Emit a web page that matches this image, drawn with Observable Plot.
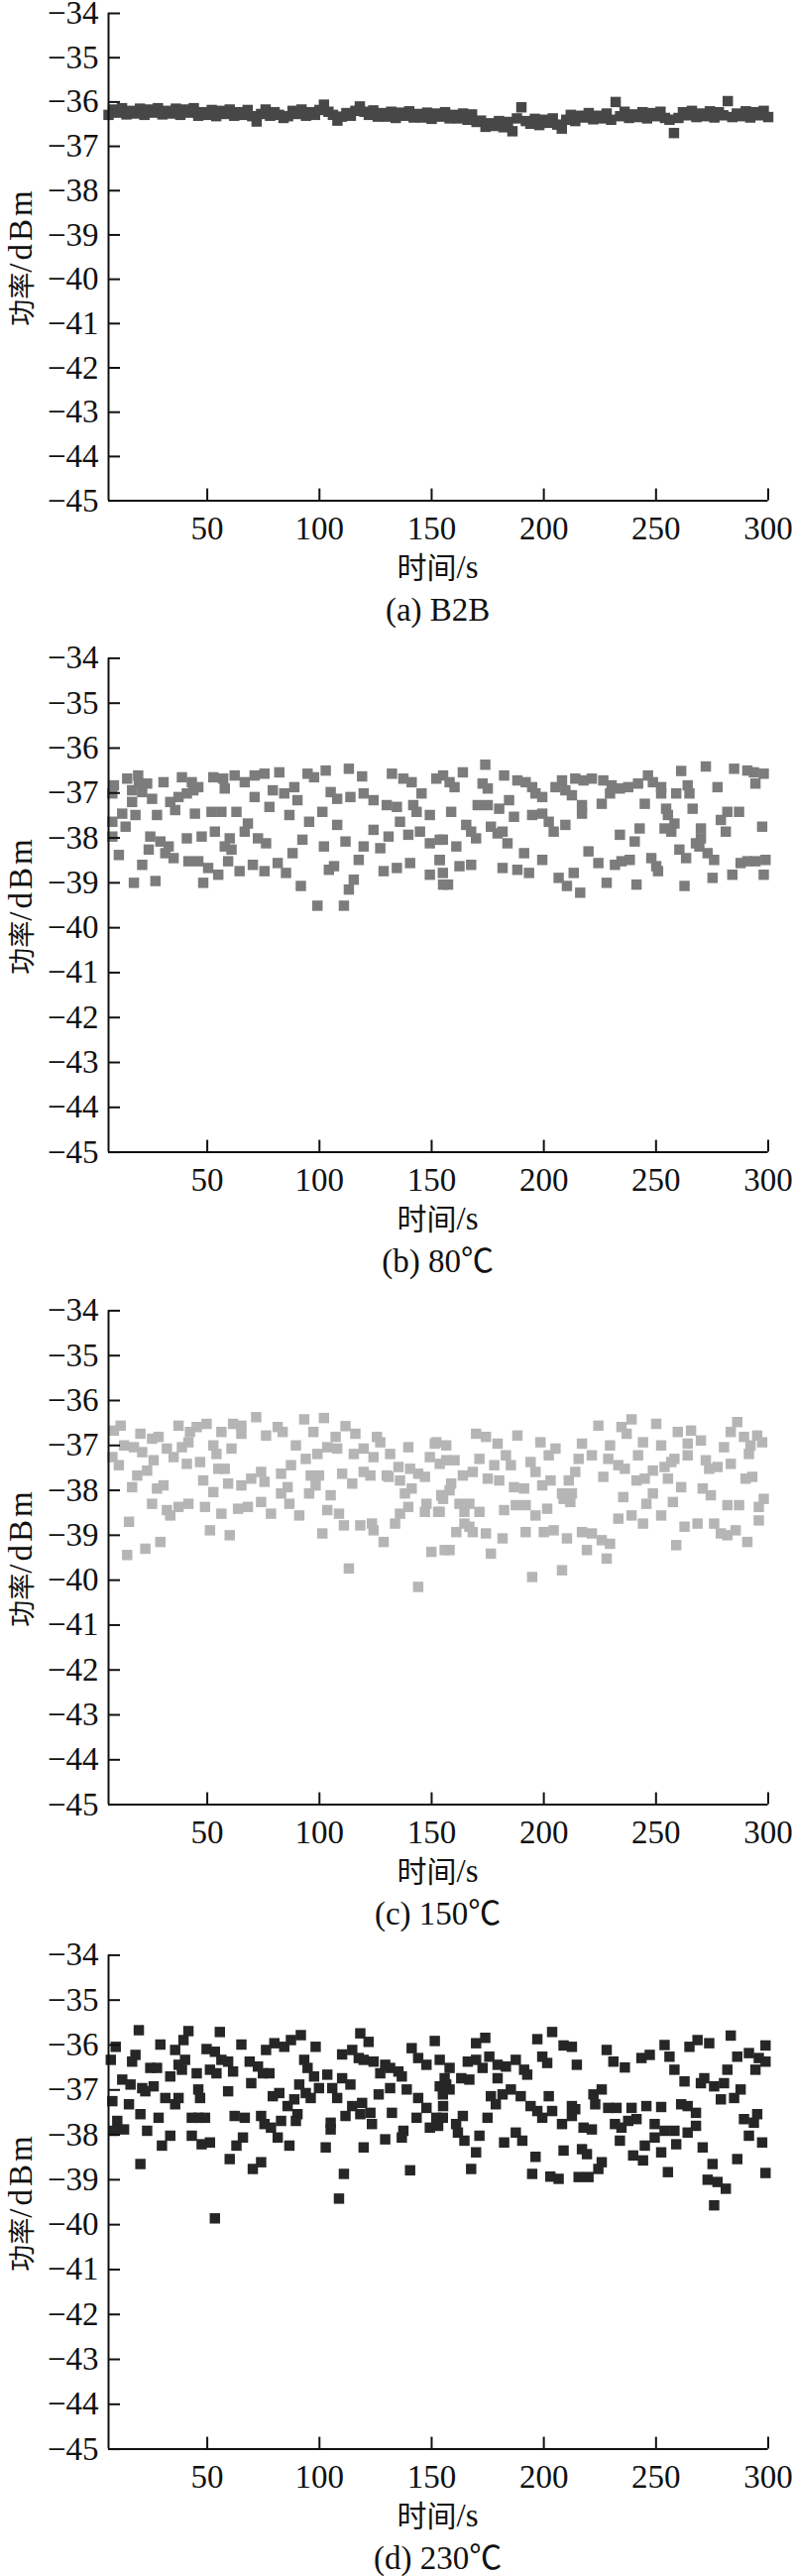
<!DOCTYPE html>
<html><head><meta charset="utf-8">
<script src="https://cdn.jsdelivr.net/npm/d3@7"></script>
<script src="https://cdn.jsdelivr.net/npm/@observablehq/plot@0.6"></script>
<style>
body{margin:0;background:#fff;width:800px;height:2598px;position:relative;overflow:hidden;font-family:"Liberation Serif","Noto Sans CJK SC",serif;color:#111;}
.panel{position:absolute;left:0;width:800px;height:650px;}
.panel svg{position:absolute;left:0;top:0;overflow:visible;}
.lbl{position:absolute;font-size:33px;line-height:1;white-space:nowrap;transform:translate(-50%,-50%);}
.ylbl{position:absolute;line-height:1;white-space:nowrap;transform:translate(-50%,-50%) rotate(-90deg);}
.cjk{font-family:"Noto Sans CJK SC",sans-serif;font-size:27px;}
.cjkx{font-family:"Noto Sans CJK SC",sans-serif;font-size:30px;}
.lat{font-family:"Liberation Serif",serif;font-size:33px;}
.latsp{font-family:"Liberation Serif",serif;font-size:33px;letter-spacing:3px;}
</style></head><body>
<script>
// ---- axis ticks ----
const xTicks = [50, 100, 150, 200, 250, 300];
const yTicks = [-45, -44, -43, -42, -41, -40, -39, -38, -37, -36, -35, -34];

// ---- captions ----
const captions = ["(a) B2B", "(b) 80\u2103", "(c) 150\u2103", "(d) 230\u2103"];
const xLabelCJK = "时间", xLabelLat = "/s";
const yLabelCJK = "功率", yLabelLat = "/dBm";

// ---- (a) B2B : [time s, power dBm] ----
const seriesB2B = [
[6,-36.29],[8,-36.17],[10,-36.24],[12,-36.14],[14,-36.28],[16,-36.2],[18,-36.26],[20,-36.15],[22,-36.29],[24,-36.17],
[26,-36.24],[28,-36.14],[30,-36.28],[32,-36.2],[34,-36.26],[36,-36.15],[38,-36.29],[40,-36.17],[42,-36.24],[44,-36.14],
[46,-36.31],[48,-36.23],[50,-36.29],[52,-36.18],[54,-36.32],[56,-36.2],[58,-36.27],[60,-36.17],[62,-36.31],[64,-36.23],
[66,-36.29],[68,-36.18],[70,-36.32],[72,-36.44],[74,-36.27],[76,-36.17],[78,-36.31],[80,-36.23],[82,-36.29],[84,-36.36],
[86,-36.32],[88,-36.2],[90,-36.27],[92,-36.17],[94,-36.31],[96,-36.23],[98,-36.29],[100,-36.18],[102,-36.06],[104,-36.22],
[106,-36.29],[108,-36.42],[110,-36.33],[112,-36.25],[114,-36.31],[116,-36.2],[118,-36.1],[120,-36.22],[122,-36.29],[124,-36.19],
[126,-36.33],[128,-36.25],[130,-36.33],[132,-36.22],[134,-36.36],[136,-36.24],[138,-36.31],[140,-36.21],[142,-36.35],[144,-36.27],
[146,-36.35],[148,-36.24],[150,-36.38],[152,-36.26],[154,-36.33],[156,-36.23],[158,-36.37],[160,-36.29],[162,-36.37],[164,-36.26],
[166,-36.4],[168,-36.28],[170,-36.45],[172,-36.42],[174,-36.56],[176,-36.48],[178,-36.54],[180,-36.43],[182,-36.57],[184,-36.45],
[186,-36.66],[188,-36.37],[190,-36.12],[192,-36.43],[194,-36.49],[196,-36.38],[198,-36.52],[200,-36.4],[202,-36.47],[204,-36.37],
[206,-36.51],[208,-36.6],[210,-36.4],[212,-36.29],[214,-36.43],[216,-36.31],[218,-36.35],[220,-36.25],[222,-36.39],[224,-36.31],
[226,-36.37],[228,-36.26],[230,-36.4],[232,-36.0],[234,-36.32],[236,-36.22],[238,-36.36],[240,-36.28],[242,-36.34],[244,-36.23],
[246,-36.37],[248,-36.25],[250,-36.32],[252,-36.22],[254,-36.36],[256,-36.4],[258,-36.7],[260,-36.36],[262,-36.23],[264,-36.3],
[266,-36.2],[268,-36.34],[270,-36.26],[272,-36.32],[274,-36.21],[276,-36.35],[278,-36.23],[280,-36.3],[282,-35.98],[284,-36.34],
[286,-36.26],[288,-36.32],[290,-36.21],[292,-36.35],[294,-36.23],[296,-36.3],[298,-36.2],[300,-36.34]
];

// ---- (b) 80°C ----
const series80 = [
[8.4,-36.83],[14.3,-36.68],[19.2,-36.61],[19.5,-36.79],[23.2,-36.79],[30.5,-36.76],[38.7,-36.65],[43.1,-36.76],[46,-36.87],[52.7,-36.65],
[57.1,-36.68],[62.2,-36.61],[66.7,-36.76],[71.1,-36.61],[75.5,-36.57],[82.1,-36.54],[94.7,-36.57],[97.6,-36.65],[102.8,-36.5],[113.1,-36.46],
[119,-36.63],[132.3,-36.57],[137.4,-36.68],[141.1,-36.76],[152.1,-36.68],[155.1,-36.61],
[7.7,-37.01],[16.5,-36.94],[21,-36.98],[25.4,-37.13],[33.5,-37.2],[37.2,-37.09],[40.9,-37.01],[43.8,-36.94],[57.8,-36.9],[71.1,-37.09],
[79.2,-36.94],[84.3,-37.01],[88.8,-36.87],[90.2,-37.16],[105,-36.98],[107.9,-37.13],[113.8,-37.09],[119.7,-37.01],[124.1,-37.16],[130,-37.27],
[134.5,-37.31],[141.8,-37.27],[145.5,-37.01],
[7.7,-37.64],[12.1,-37.46],[16.5,-37.2],[18,-37.49],[27.6,-37.49],[35.7,-37.38],[44.5,-37.46],[51.9,-37.42],[56.3,-37.42],[63,-37.42],
[68.1,-37.68],[77.7,-37.31],[86.6,-37.49],[95.4,-37.64],[101.3,-37.42],[107.9,-37.71],[135.9,-37.64],[143.3,-37.42],[149.2,-37.49],
[7.7,-37.97],[13.6,-37.75],[24.6,-37.97],[29.1,-38.08],[32.8,-38.19],[40.9,-38.01],[47.5,-37.97],[53.4,-37.86],[57.8,-38.19],[60,-38.01],
[66.7,-37.86],[72.6,-38.01],[76.2,-38.12],[92.4,-38.04],[102,-38.19],[111.6,-38.08],[119.7,-38.19],[124.1,-37.82],[127.1,-38.23],[130.8,-37.97],
[139.6,-37.93],[144.8,-37.86],[149.2,-38.12],[153.6,-38.04],
[10.6,-38.38],[23.9,-38.26],[21,-38.6],[31.3,-38.34],[35,-38.45],[41.6,-38.52],[46,-38.52],[50.4,-38.67],[54.9,-38.82],[60.8,-38.26],
[59.3,-38.52],[64.4,-38.74],[70.3,-38.6],[75.5,-38.74],[81.4,-38.56],[85.1,-38.78],[88,-38.34],[104.2,-38.71],[106.5,-38.63],[117.5,-38.49],
[128.6,-38.74],[134.5,-38.67],[140.4,-38.56],[149.2,-38.82],[153.6,-38.49],
[17.3,-39],[26.9,-38.96],[48.2,-39],[91.7,-39.07],[99.1,-39.51],[110.9,-39.51],[113.1,-39.15],[115.3,-38.93],[155.1,-39.04],
[163.9,-36.54],[173.9,-36.37],[182.3,-36.61],[158,-36.76],[160.2,-36.87],[172.7,-36.79],[175,-36.9],[188.2,-36.72],[191.9,-36.76],[194.8,-36.87],
[205.2,-36.87],[208.1,-36.72],[214,-36.68],[217.7,-36.72],[221.4,-36.68],[226.5,-36.72],[230.2,-36.83],[233.9,-36.9],[237.6,-36.87],[242,-36.79],
[246.4,-36.61],[248.6,-36.76],[252.3,-36.87],[261.2,-36.51],[272.2,-36.41],[284.8,-36.46],[290.7,-36.5],[293.6,-36.54],[298,-36.57],[294.3,-36.79],
[277.4,-36.87],[264.1,-36.83],[264.9,-37.01],[259,-37.01],[252.3,-37.01],
[196.3,-37.01],[199.3,-37.09],[209.6,-36.94],[212.5,-37.05],[217,-37.27],[225.8,-37.24],[229.5,-37.01],[245,-37.24],[254.5,-37.35],[266.3,-37.35],
[281.8,-37.42],[287,-37.42],[170.5,-37.27],[175,-37.27],[180.1,-37.35],[184.5,-37.16],[186.7,-37.53],[158.7,-37.42],
[194.8,-37.49],[199.3,-37.46],[202.2,-37.64],[204.4,-37.86],[209.6,-37.71],[217,-37.46],[233.9,-37.93],[242.7,-37.79],[253.8,-37.79],[255.3,-37.49],
[258.2,-37.68],[256.8,-37.86],[270,-37.79],[278.9,-37.6],[281.1,-37.86],[297.3,-37.75],[165.4,-37.71],[167.6,-37.86],[169.8,-38.01],[176.4,-37.75],
[179.4,-37.9],[181.6,-37.86],
[155,-38.04],[161,-38.19],[183.8,-38.12],[191.2,-38.34],[199.3,-38.49],[153.6,-38.49],[219.9,-38.3],[224.3,-38.56],[231.7,-38.6],[234.6,-38.52],
[238.3,-38.49],[240.5,-38.08],[247.9,-38.45],[250.1,-38.63],[260.4,-38.26],[263.4,-38.45],[267.8,-38.12],[270,-38.01],[269.3,-38.19],[273,-38.34],
[275.9,-38.49],[287.7,-38.56],[290.7,-38.52],[294.3,-38.52],[298.8,-38.49],
[155,-38.78],[157.3,-39.04],[162.4,-38.63],[167.6,-38.6],[181.6,-38.67],[188.2,-38.71],[193.4,-38.78],[206.6,-38.89],[210.3,-39.07],[213.3,-38.78],
[216.2,-39.22],[228,-39],[241.3,-39.04],[250.9,-38.74],[262.7,-39.07],[275.2,-38.89],[284,-38.82],[298,-38.82]
];

// ---- (c) 150°C ----
const series150 = [
[8.4,-36.67],[11.4,-36.56],[20.2,-36.74],[25.4,-36.85],[28.3,-36.81],[37.2,-36.56],[42.3,-36.7],[45.3,-36.59],[49.7,-36.52],[56.3,-36.7],
[61.5,-36.52],[65.2,-36.56],[65.2,-36.74],[71.8,-36.37],[76.2,-36.78],[81.4,-36.59],[83.6,-36.7],[93.2,-36.42],[97.3,-36.7],[102,-36.39],
[107.2,-36.81],[111.6,-36.57],[116,-36.74],[125.6,-36.81],[127.1,-36.93],
[7.7,-37.26],[10.6,-37.44],[12.9,-37],[17.3,-37.04],[21,-37.15],[26.1,-37.33],[32,-37.07],[35,-37.26],[38.7,-37.04],[41.6,-36.93],
[52.7,-37],[54.1,-37.19],[60.8,-37.07],[89.5,-37],[93.9,-37.3],[99.1,-37.19],[103.5,-37.04],[107.9,-37.07],[115.3,-37.19],[119.7,-37.07],
[124.1,-37.26],[131.5,-37.19],[139.6,-37.04],[149.2,-37.26],[151.4,-36.96],[153.6,-37.41],[140.4,-37.52],[135.2,-37.48],[130,-37.67],
[16.5,-37.93],[18.8,-37.67],[23.2,-37.56],[27.6,-37.96],[30.5,-37.89],[40.9,-37.41],[46.8,-37.37],[48.2,-37.78],[52.7,-38.04],[54.9,-37.52],
[57.8,-37.52],[59.3,-37.85],[65.2,-37.89],[69.6,-37.74],[74,-37.59],[75.5,-37.81],[82.9,-37.63],[85.8,-37.93],[87.3,-37.44],[96.1,-37.67],
[99.8,-37.67],[98.3,-37.89],[105,-38.11],[110.1,-37.63],[114.6,-37.85],[119.7,-37.59],[122.7,-37.67],[130.8,-37.7],[135.9,-37.78],[138.1,-38.07],
[141.1,-37.96],[144,-37.63],[147,-37.7],[154.4,-38.11],
[25.4,-38.3],[32,-38.44],[33.5,-38.56],[37.2,-38.37],[41.6,-38.3],[49,-38.37],[56.3,-38.52],[63.7,-38.41],[68.1,-38.37],[74,-38.26],
[78.4,-38.52],[82.9,-38.07],[86.6,-38.3],[91,-38.56],[95.4,-38.07],[103.5,-38.44],[108.7,-38.52],[110.9,-38.78],[118.2,-38.78],[123.4,-38.74],
[124.1,-38.89],[133.7,-38.74],[135.9,-38.52],[139.6,-38.37],[147.7,-38.3],[147,-38.48],[152.9,-38.48],[155.1,-38.19],
[15.1,-38.7],[51.2,-38.89],[60,-39],[101.3,-38.96],[29.1,-39.15],[22.4,-39.3],[14.3,-39.44],[128.6,-39.15],[113.1,-39.74],[144,-40.15],
[149.9,-39.37],[155.8,-39.33],
[224.3,-36.56],[239.1,-36.42],[250.1,-36.52],[286.2,-36.48],[169.8,-36.74],[174.2,-36.81],[188.2,-36.78],[234.6,-36.59],[236.9,-36.74],[259.7,-36.7],
[265.6,-36.67],[270,-36.89],[283.3,-36.7],[289.2,-36.81],[295.1,-36.78],[297.3,-36.93],[152.1,-36.93],[156.5,-37],[179.4,-36.96],[198.5,-36.93],
[205.2,-37.07],[217,-36.96],[229.5,-37],[244.2,-36.93],[252.3,-37],[264.1,-36.96],[280.3,-37.04],[292.1,-37],
[156.5,-37.33],[160.2,-37.33],[171.3,-37.3],[177.9,-37.44],[183.1,-37.22],[185.3,-37.44],[194.1,-37.37],[196.3,-37.59],[202.2,-37.22],[215.5,-37.3],
[221.4,-37.22],[228.7,-37.3],[233.2,-37.44],[236.1,-37.52],[242,-37.22],[258.2,-37.3],[264.1,-37.22],[272.2,-37.33],[273.7,-37.52],[277.4,-37.48],
[283.3,-37.41],[291.4,-37.19],[248.6,-37.56],[253.8,-37.48],[256.8,-37.37],
[158.7,-37.85],[163.9,-37.67],[168.3,-37.59],[175,-37.74],[180.1,-37.78],[186.7,-37.93],[191.2,-37.96],[199.3,-37.89],[203,-37.78],[208.1,-38.07],
[211.1,-37.78],[212.5,-38.07],[214,-37.59],[226.5,-37.7],[235.4,-38.15],[241.3,-37.78],[245,-37.74],[248.6,-38.07],[255.3,-37.74],[261.2,-37.93],
[270.8,-37.96],[274.4,-38.11],[289.9,-37.74],[292.9,-37.7],[154.3,-38.11],[158,-38],
[153.6,-38.48],[162.4,-38.3],[164.6,-38.48],[166.8,-38.3],[171.3,-38.48],[182.3,-38.44],[187.5,-38.33],[191.9,-38.33],[196.3,-38.56],[201.5,-38.41],
[208.8,-38.19],[211.8,-38.26],[233.2,-38.63],[239.1,-38.56],[244.2,-38.74],[252.3,-38.56],[245.7,-38.3],[257.5,-38.26],[281.8,-38.33],[287,-38.33],
[295.8,-38.37],[298,-38.19],[295.8,-38.67],[164.6,-38.74],[166.8,-38.81],
[161,-38.93],[168.3,-38.93],[174.2,-38.96],[181.6,-39.07],[191.9,-38.93],[200,-38.93],[204.4,-38.89],[210.3,-39.07],[217,-38.93],[221.4,-38.96],
[225.8,-39.11],[229.5,-39.19],[262.7,-38.81],[268.5,-38.74],[275.9,-38.74],[278.9,-38.96],[281.8,-39],[285.5,-38.89],[290.7,-39.15],[158,-39.33],
[176.4,-39.41],[219.2,-39.33],[228,-39.52],[259,-39.22],[194.8,-39.93],[208.1,-39.78]
];

// ---- (d) 230°C ----
const series230 = [
[19.5,-35.67],[41.6,-35.69],[55.6,-35.71],[29.1,-35.99],[39.4,-35.89],[35.7,-36.11],[9.2,-36.04],[7,-36.33],[49.7,-36.09],[53.4,-36.15],
[65.2,-35.99],[76.2,-36.11],[79.9,-35.96],[84.3,-36.04],[87.3,-35.89],[91.7,-35.78],[98.3,-36.04],[110.1,-36.21],[114.6,-36.11],[118.2,-35.74],
[121.9,-35.93],[141.1,-36.07],[151.4,-35.91],
[16.5,-36.37],[18,-36.22],[24.6,-36.51],[27.6,-36.51],[33.5,-36.7],[37.2,-36.44],[40.1,-36.33],[38.7,-36.55],[45.3,-36.63],[51.2,-36.55],
[54.1,-36.63],[56.3,-36.33],[59.3,-36.37],[61.5,-36.59],[68.9,-36.37],[72.6,-36.48],[74.8,-36.63],[77.7,-36.63],[93.2,-36.33],[94.7,-36.51],
[97.6,-36.7],[103.5,-36.66],[110.1,-36.74],[113.8,-36.88],[117.5,-36.29],[119.7,-36.33],[124.1,-36.37],[127.1,-36.63],[129.3,-36.44],[131.5,-36.51],
[135.2,-36.59],[136.7,-36.7],[144,-36.29],[147.7,-36.44],[153.6,-36.33],[12.1,-36.77],[15.8,-36.88],[21,-36.96],[26.1,-36.92],[69.6,-36.85],[91,-36.88],
[7.7,-37.25],[15.1,-37.32],[22.4,-37.03],[31.3,-37.18],[35.7,-37.32],[37.2,-37.18],[46,-36.99],[46.8,-37.18],[59.3,-37.03],[79.2,-37.14],
[82.1,-37.07],[85.8,-37.36],[88.8,-37.21],[93.9,-37.07],[96.1,-37.18],[99.8,-36.96],[105.7,-36.96],[107.9,-37.18],[114.6,-37.36],[119,-37.29],
[126.4,-37.1],[131.5,-36.96],[138.9,-36.99],[144,-37.18],[147.7,-37.4],[153.6,-36.92],[155.1,-37.36],
[9.9,-37.69],[8.4,-37.91],[12.9,-37.88],[20.2,-37.54],[23.2,-37.91],[28.3,-37.62],[43.1,-37.62],[46,-37.62],[49,-37.62],[62.2,-37.58],
[66.7,-37.62],[74,-37.58],[75.5,-37.76],[78.4,-37.84],[82.9,-37.69],[90.2,-37.54],[89.5,-37.69],[105,-37.73],[105,-37.88],[111.6,-37.58],
[118.2,-37.54],[122.7,-37.51],[123.4,-37.76],[132.3,-37.51],[143.3,-37.62],[149.2,-37.84],[152.9,-37.8],[137.4,-37.91],
[29.8,-38.24],[33.5,-38.02],[43.1,-38.02],[47.5,-38.21],[51.2,-38.17],[63,-38.24],[65.9,-38.06],[60,-38.54],[70.3,-38.76],[74,-38.61],
[81.4,-38.06],[86.6,-38.24],[102.8,-38.28],[119.7,-38.28],[129.3,-38.1],[136.7,-38.06],[20.2,-38.65],[110.9,-38.87],[140.4,-38.79],
[108.7,-39.42],[53.4,-39.86],
[169.8,-35.96],[173.9,-35.84],[197.1,-35.87],[203.7,-35.71],[208.8,-36.01],[212.5,-36.04],[228,-36.11],[253.8,-36],[264.9,-36.04],[268.5,-35.89],
[273.7,-35.96],[283.3,-35.79],[298.8,-36.01],
[158,-36.51],[166.1,-36.37],[169.8,-36.33],[175.7,-36.26],[172.7,-36.51],[179.4,-36.44],[183.1,-36.48],[187.5,-36.33],[191.2,-36.55],[192.6,-36.66],
[199.3,-36.26],[201.5,-36.4],[214.7,-36.44],[231,-36.37],[236.1,-36.5],[243.5,-36.29],[247.2,-36.22],[256,-36.26],[258.2,-36.55],[155.8,-36.74],
[156.5,-36.88],[163.2,-36.74],[166.8,-36.77],[179.4,-36.74],[281.8,-36.55],[286.2,-36.26],[291.4,-36.18],[295.8,-36.29],[298.8,-36.37],[294.3,-36.55],
[158,-36.99],[155,-37.1],[176.4,-37.14],[178.6,-37.32],[181.6,-37.1],[185.3,-36.99],[189.7,-37.14],[194.1,-37.36],[197.1,-37.47],[202.2,-37.14],
[203.7,-37.47],[212.5,-37.36],[214,-37.43],[222.1,-37.1],[225.8,-36.99],[222.9,-37.32],[228.7,-37.4],[232.4,-37.4],[239.1,-37.4],[245.7,-37.36],
[252.3,-37.38],[261.2,-37.32],[264.1,-37.36],[267.8,-37.51],[262.7,-36.81],[271.5,-36.74],[270,-36.85],[275.9,-36.92],[280.3,-36.85],[284.8,-37.18],
[287.7,-36.99],[278.9,-37.21],
[152.1,-37.62],[155,-37.62],[163.9,-37.58],[160.9,-37.76],[174.9,-37.62],[199.3,-37.62],[208.1,-37.76],[212.5,-37.58],[217.7,-37.84],[221.4,-37.88],
[231.7,-37.76],[234.6,-37.84],[237.6,-37.69],[241.3,-37.65],[249.4,-37.76],[253.8,-37.91],[258.2,-37.91],[264.1,-37.95],[267.8,-37.8],[289.2,-37.65],
[293.6,-37.73],[295.1,-37.54],[161.7,-37.95],[164.6,-38.13],[171.3,-38.02],[182.3,-38.17],[187.5,-37.95],[190.4,-38.13],[233.9,-38.13],[249.4,-38.06],
[259,-38.21],[291.4,-38.02],[297.3,-38.17],
[169.8,-38.39],[167.6,-38.76],[196.3,-38.49],[208.8,-38.35],[217,-38.32],[219.2,-38.43],[225.8,-38.61],[224.3,-38.76],[239.8,-38.46],[244.2,-38.57],
[245,-38.24],[252.3,-38.39],[255.3,-38.83],[270.8,-38.28],[275.2,-38.65],[194.8,-38.87],[202.9,-38.93],[206.6,-38.98],[215.5,-38.94],[219.9,-38.94],
[273,-39],[277.4,-39.05],[281.1,-39.2],[286.2,-38.54],[298.8,-38.85],[275.9,-39.57]
];

const panels = [
  {data: seriesB2B, color: "#474747", top: 0, mT: 13},
  {data: series80, color: "#7c7c7c", top: 657, mT: 6.4},
  {data: series150, color: "#b5b5b5", top: 1315, mT: 6.4},
  {data: series230, color: "#262626", top: 1965, mT: 6.4}
];

const W = 800, H = 550, mB = 45.4, mL = 109, mR = 25.5;

panels.forEach((p, i) => {
  const div = document.createElement("div");
  div.className = "panel";
  div.style.top = p.top + "px";
  document.body.appendChild(div);
  const chart = Plot.plot({
    width: W, height: H,
    marginTop: p.mT, marginBottom: mB, marginLeft: mL, marginRight: mR,
    x: {domain: [6, 300]},
    y: {domain: [-45, -34]},
    style: {fontFamily: '"Liberation Serif", serif', fontSize: "33px", color: "#111", background: "transparent", overflow: "visible"},
    marks: [
      Plot.dot(p.data, {x: d => d[0], y: d => d[1], symbol: "square", r: 5.9, fill: p.color, stroke: "none"}),
      Plot.ruleX([6], {strokeWidth: 2}),
      Plot.ruleY([-45], {strokeWidth: 2}),
      Plot.axisX({ticks: xTicks, tickSize: -12, tickPadding: 27.5, strokeWidth: 2, label: null}),
      Plot.axisY({ticks: yTicks, tickSize: -12, tickPadding: 22, strokeWidth: 2, label: null})
    ]
  });
  div.appendChild(chart);

  const xl = document.createElement("div");
  xl.className = "lbl";
  xl.innerHTML = `<span class="cjkx">${xLabelCJK}</span><span class="lat">${xLabelLat}</span>`;
  xl.style.left = "441.6px"; xl.style.top = "572px";
  div.appendChild(xl);

  const cap = document.createElement("div");
  cap.className = "lbl"; cap.textContent = captions[i];
  cap.style.left = "441.6px"; cap.style.top = "614.5px";
  div.appendChild(cap);

  const yl = document.createElement("div");
  yl.className = "ylbl";
  yl.innerHTML = `<span class="cjk">${yLabelCJK}</span><span class="latsp">${yLabelLat}</span>`;
  yl.style.left = "21px"; yl.style.top = ((p.mT + (H - mB)) / 2) + "px";
  div.appendChild(yl);
});
</script>
</body></html>
